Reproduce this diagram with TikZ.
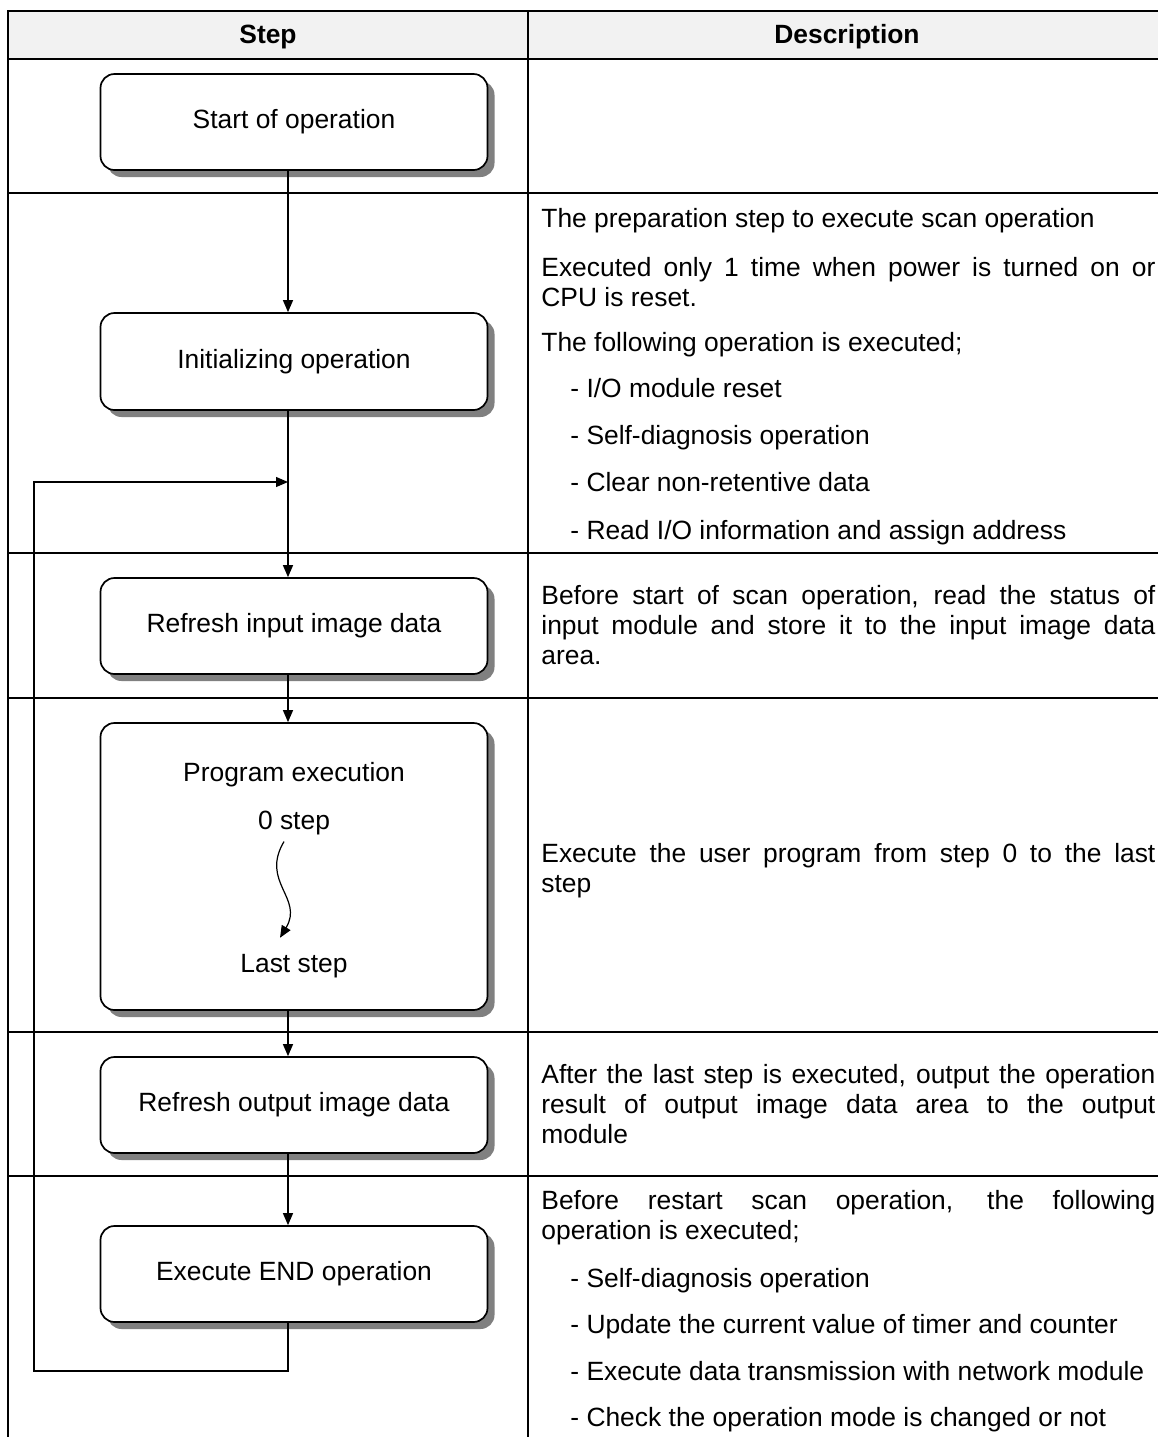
\documentclass[tikz,border=0pt]{standalone}
\usepackage{fontspec}
\setmainfont{Liberation Sans}
\usetikzlibrary{arrows.meta,shadows}
\definecolor{headgray}{HTML}{F2F2F2}
\definecolor{shadegray}{HTML}{808080}
\newcommand\scanfont{\fontsize{13.2}{15}\selectfont}

\tikzset{
  stepbox/.style={draw,fill=white,line width=.85pt,rounded corners=7pt,
    minimum width=193.5pt,minimum height=48pt,
    drop shadow={shadow xshift=3.5pt,shadow yshift=-3.5pt,fill=shadegray,opacity=1}},
  flow/.style={line width=.6pt,-{Triangle[length=6pt,width=5pt]}},
  desc/.style={anchor=base west,inner sep=0pt,text width=307pt,align=justify},
  bullet/.style={anchor=base west,inner sep=0pt},
  tablerule/.style={line width=1pt}
}

\begin{document}
\begin{tikzpicture}[x=.5pt,y=-.5pt,font=\scanfont]
  \useasboundingbox (0,0) rectangle (1158,1437);

  % table
  \fill[headgray] (8,11) rectangle (1158,59);
  \draw[tablerule] (1158,11) -- (8,11) -- (8,1437);
  \draw[tablerule] (528,11) -- (528,1437);
  \foreach \y in {59,193,553,698,1032,1176}
    \draw[tablerule] (8,\y) -- (1158,\y);
  \node[anchor=base,font=\scanfont\bfseries] (hstep) at (268,43) {Step};
  \node[anchor=base,font=\scanfont\bfseries] (hdesc) at (847,43) {Description};

  % steps
  \coordinate (spine) at (288,0);
  \node[stepbox] (start) at (294,122) {Start of operation};
  \node[stepbox,minimum height=48.5pt] (init) at (294,361.5) {Initializing operation};
  \node[stepbox] (refin) at (294,626) {Refresh input image data};
  \node[stepbox,minimum height=143.5pt] (prog) at (294,866.5) {};
  \node[anchor=base] (progtitle) at (294,781) {Program execution};
  \node[anchor=base] (zerostep) at (294,829) {0 step};
  \node[anchor=base] (laststep) at (294,972) {Last step};
  \node[stepbox] (refout) at (294,1105) {Refresh output image data};
  \node[stepbox] (endop) at (294,1274) {Execute END operation};

  \draw[flow] (start.south -| spine) -- (init.north -| spine);
  \draw[flow] (init.south -| spine) -- (refin.north -| spine);
  \draw[flow] (refin.south -| spine) -- (prog.north -| spine);
  \draw[flow] (prog.south -| spine) -- (refout.north -| spine);
  \draw[flow] (refout.south -| spine) -- (endop.north -| spine);
  \draw[flow] ([xshift=-5pt]zerostep.south) .. controls (260,882) and (304,898)
    .. ([xshift=-7pt,yshift=4.5pt]laststep.north);

  % scan loop
  \coordinate (merge) at (288,482);
  \coordinate (loopcorner) at (34,1371);
  \draw[flow] (endop.south -| spine) |- (loopcorner) |- (merge);

  % descriptions
  \node[desc] (prep) at (541,227) {The preparation step to execute scan operation};
  \node[desc] (once) at (541,276) {Executed only 1 time when power is turned on or\linebreak CPU is reset.};
  \node[desc] (initops) at (541,351) {The following operation is executed;};
  \foreach \y/\txt [count=\i] in {397/{I/O module reset},444/{Self-diagnosis operation},
      491/{Clear non-retentive data},539/{Read I/O information and assign address}}
    \node[bullet] (initb\i) at (570,\y) {- \txt};
  \node[desc] (inputdesc) at (541,604) {Before start of scan operation, read the status of\linebreak input module and store it to the input image data\linebreak area.};
  \node[desc] (progdesc) at (541,862) {Execute the user program from step 0 to the last\linebreak step};
  \node[desc] (outputdesc) at (541,1083) {After the last step is executed, output the operation\linebreak result of output image data area to the output\linebreak module};
  \node[desc] (enddesc) at (541,1209) {Before restart scan operation, the following\linebreak operation is executed;};
  \foreach \y/\txt [count=\i] in {1287/{Self-diagnosis operation},1333/{Update the current value of timer and counter},
      1380/{Execute data transmission with network module},1426/{Check the operation mode is changed or not}}
    \node[bullet] (endb\i) at (570,\y) {- \txt};
\end{tikzpicture}
\end{document}
